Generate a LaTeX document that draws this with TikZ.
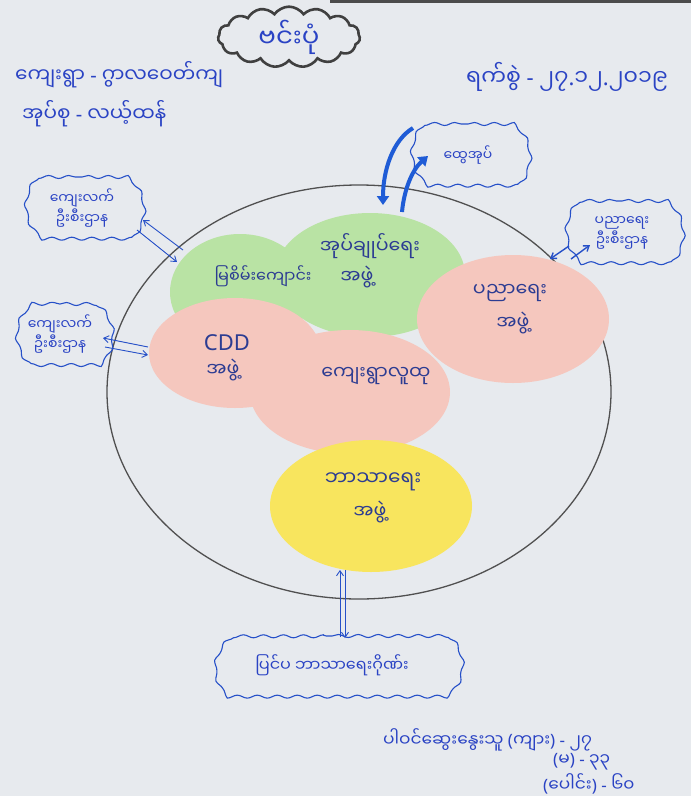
\documentclass[tikz,border=0pt]{standalone}
\usepackage{fontspec}
\newfontfamily\my[Script=Myanmar]{Noto Sans Myanmar UI}
\newfontfamily\latf{Noto Sans}
\newcommand\pq[1]{{\latf #1}}
\usetikzlibrary{shapes.symbols,shapes.geometric,shapes.misc,arrows.meta,decorations.pathmorphing}
\definecolor{paper}{HTML}{E7EAEE}
\definecolor{inkc}{HTML}{2A43C4}
\definecolor{blobink}{HTML}{2C3C92}
\definecolor{cloudc}{HTML}{2650C8}
\definecolor{thickc}{HTML}{1F5CD6}
\definecolor{circc}{HTML}{505050}
\definecolor{greenc}{HTML}{B9E3A4}
\definecolor{pinkc}{HTML}{F5C7BE}
\definecolor{yellowc}{HTML}{F8E55E}
\tikzset{
  head/.style={text=inkc, font=\my\fontsize{20}{24}\selectfont, anchor=west, inner sep=0pt},
  blobtext/.style={text=blobink, font=\my\fontsize{19}{22}\selectfont, inner sep=0pt},
  bcloud/.style={rounded rectangle, rounded rectangle arc length=100, draw=cloudc, line width=1.1pt,
    decorate, decoration={snake, amplitude=1.5pt, segment length=20pt},
    inner sep=0pt, align=center, text=inkc, font=\my\fontsize{14}{16}\selectfont},
  blob/.style={ellipse, inner sep=0pt},
  thinarr/.style={draw=cloudc, line width=0.9pt},
  thickarr/.style={draw=thickc, line width=4pt, -{Triangle[length=9pt,width=12pt]}},
  >={Straight Barb[length=5pt,width=7pt]}
}
\begin{document}
\begin{tikzpicture}[x=1pt,y=-1pt]
\fill[paper] (0,0) rectangle (691,796);
\useasboundingbox (0,0) rectangle (691,796);
\fill[black!70] (330,0) rectangle (691,3);

% big circle (village)
\node[ellipse, draw=circc, line width=1.3pt, minimum width=504pt, minimum height=414pt] (village) at (359,392) {};

% paper blobs
\node[blob, fill=greenc, minimum width=140pt, minimum height=116pt] (gl) at (240,292) {};
\node[blob, fill=greenc, minimum width=190pt, minimum height=124pt] (gr) at (370,275) {};
\node[blob, fill=pinkc, minimum width=192pt, minimum height=128pt] (pa) at (513,319) {};
\node[blob, fill=pinkc, minimum width=172pt, minimum height=110pt] (cdd) at (235,353) {};
\node[blob, fill=pinkc, minimum width=200pt, minimum height=124pt] (vc) at (350,392) {};
\node[blob, fill=yellowc, minimum width=202pt, minimum height=132pt] (yel) at (371,506) {};

% blob texts
\node[blobtext] (t1) at (370,246) {အုပ်ချုပ်ရေး};
\node[blobtext] (t2) at (357,277) {အဖွဲ့};
\node[blobtext, font=\my\fontsize{16}{20}\selectfont] (t3) at (263,276) {မြစိမ်းကျောင်း};
\node[blobtext, font=\latf\fontsize{22}{24}\selectfont] (t4) at (227,343) {CDD};
\node[blobtext] (t5) at (223,370) {အဖွဲ့};
\node[blobtext] (t6) at (376,376) {ကျေးရွာလူထု};
\node[blobtext] (t7) at (510,293) {ပညာရေး};
\node[blobtext] (t8) at (513,323) {အဖွဲ့};
\node[blobtext, font=\my\fontsize{20}{22}\selectfont] (t9) at (373,482) {ဘာသာရေး};
\node[blobtext] (t10) at (370,512) {အဖွဲ့};

% title cloud
\node[cloud, cloud puffs=15, cloud puff arc=110, aspect=2.5, draw=black!75, line width=2.6pt,
  minimum width=142pt, minimum height=56pt, inner sep=0pt,
  text=inkc, font=\my\fontsize{26}{28}\selectfont] (title) at (289,37) {ဗင်းပုံ};

% header texts
\node[head] (h1) at (15,75) {ကျေးရွာ \pq{-} ဂွာလဝေတ်ကျ};
\node[head] (h2) at (22,114) {အုပ်စု \pq{-} လယ့်ထန်};
\node[head, font=\my\fontsize{22}{24}\selectfont] (h3) at (466,77) {ရက်စွဲ \pq{-} ၂၇\pq{.}၁၂\pq{.}၂၀၁၉};

% outside clouds
\node[bcloud, minimum width=118pt, minimum height=62pt] (tw) at (468,155) {ထွေအုပ်};
\node[bcloud, minimum width=118pt, minimum height=62pt] (ktl) at (82,208) {ကျေးလက်\\ဦးစီးဌာန};
\node[bcloud, minimum width=96pt, minimum height=60pt] (kll) at (60,334) {ကျေးလက်\\ဦးစီးဌာန};
\node[bcloud, minimum width=116pt, minimum height=64pt] (kr) at (622,233) {ပညာရေး\\ဦးစီးဌာန};
\node[bcloud, minimum width=250pt, minimum height=58pt, font=\my\fontsize{16}{18}\selectfont] (bc) at (332,665) {ပြင်ပ ဘာသာရေးဂိုဏ်း};

% connectors
\draw[thinarr,<-] ([shift={(61,12)}]ktl.center) -- ([shift={(-57,-42)}]gl.center);
\draw[thinarr,->] ([shift={(55,22)}]ktl.center) -- ([shift={(-63,-30)}]gl.center);
\draw[thinarr,<-] ([shift={(43,4)}]kll.center) -- ([shift={(-87,-6)}]cdd.center);
\draw[thinarr,->] ([shift={(45,13)}]kll.center) -- ([shift={(-87,2)}]cdd.center);
\draw[thinarr,line width=1.4pt,->] ([shift={(-53,13)}]kr.center) -- ([shift={(37,-60)}]pa.center);
\draw[thinarr,line width=1.4pt,->] ([shift={(58,-60)}]pa.center) -- ([shift={(-32,12)}]kr.center);
\draw[thickarr] ([shift={(-55,-27)}]tw.center) .. controls (393,140) and (383,170) .. ([shift={(13,-70)}]gr.center);
\draw[thickarr] ([shift={(32,-63)}]gr.center) .. controls (404,190) and (412,170) .. ([shift={(-40,1)}]tw.center);
\draw[thinarr,->] ([shift={(8,-28)}]bc.center) -- ([shift={(-31,64)}]yel.center);
\draw[thinarr,->] ([shift={(-26,64)}]yel.center) -- ([shift={(13,-27)}]bc.center);

% participants
\node[head, font=\my\fontsize{17}{20}\selectfont] (p1) at (383,740) {ပါဝင်ဆွေးနွေးသူ \pq{(}ကျား\pq{)} \pq{-} ၂၇};
\node[head, font=\my\fontsize{17}{20}\selectfont] (p2) at (553,762) {\pq{(}မ\pq{)} \pq{-} ၃၃};
\node[head, font=\my\fontsize{17}{20}\selectfont] (p3) at (543,784) {\pq{(}ပေါင်း\pq{)} \pq{-} ၆၀};
\end{tikzpicture}
\end{document}
